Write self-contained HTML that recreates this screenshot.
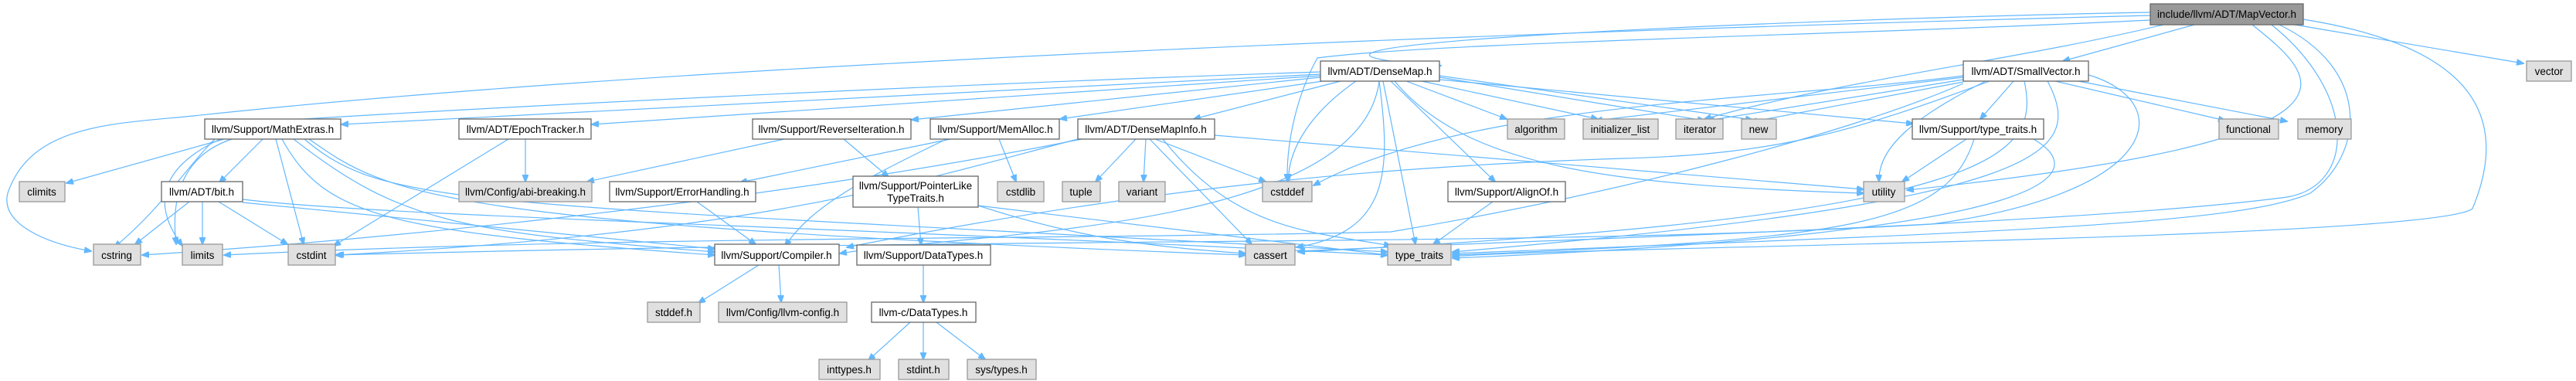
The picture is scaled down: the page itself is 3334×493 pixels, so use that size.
<!DOCTYPE html>
<html><head><meta charset="utf-8"><style>
html,body{margin:0;padding:0;background:#fff}
svg{display:block}
text{font-family:"Liberation Sans",Arial,sans-serif;font-size:13.5px;fill:#000;text-anchor:middle}
.w{fill:#fff;stroke:#666;stroke-width:1.3}
.g{fill:#e0e0e0;stroke:#999;stroke-width:1.3}
.m{fill:#999;stroke:#666;stroke-width:1.3}
path{fill:none;stroke:#63b8ff;stroke-width:1.2;marker-end:url(#a)}
</style></head><body>
<svg width="3334" height="493" viewBox="0 0 3334 493" xmlns="http://www.w3.org/2000/svg">
<defs><marker id="a" markerWidth="10" markerHeight="8" refX="9" refY="4" orient="auto" markerUnits="userSpaceOnUse"><polygon points="0,0 10,4 0,8" fill="#63b8ff" stroke="#63b8ff"/></marker></defs>
<!-- edges from MapVector -->
<path d="M2783,16 C2300,25 1500,60 1865,85"/>
<path d="M2840,32 L2670,79"/>
<path d="M2970,32 L3266,82"/>
<path d="M2783,20 C2000,40 900,80 250,150 C150,160 40,160 10,250 C0,290 60,315 118,325"/>
<path d="M2783,26 C2400,45 1850,55 1705,75 C1680,120 1665,180 1666,234"/>
<path d="M2800,32 C2600,80 2400,100 2206,154"/>
<path d="M2915,32 C3000,100 3100,180 2468,246"/>
<path d="M2950,32 C3070,90 3060,200 2990,250 C2900,290 2600,300 1880,328"/>
<path d="M2981,25 C3200,60 3250,150 3200,270 C3150,310 2000,320 1880,332"/>
<path d="M2940,32 C3050,120 3050,240 2960,255 C2700,290 2000,310 1680,325"/>
<!-- edges from DenseMap -->
<path d="M1709,96 L442,161"/>
<path d="M1709,98 L766,161"/>
<path d="M1709,100 L1180,155"/>
<path d="M1712,105 L1372,154"/>
<path d="M1735,105 L1545,154"/>
<path d="M1820,105 L1950,154"/>
<path d="M1840,105 L2068,154"/>
<path d="M1863,100 L2206,156"/>
<path d="M1863,98 L2268,155"/>
<path d="M1863,103 L2476,160"/>
<path d="M1755,105 C1690,150 1666,200 1668,234"/>
<path d="M1800,105 L1935,235"/>
<path d="M1805,105 C1900,220 2100,240 2412,250"/>
<path d="M1785,105 C1800,220 1800,300 1678,320"/>
<path d="M1790,105 L1832,316"/>
<path d="M1785,105 C1760,300 1260,300 1087,328"/>
<path d="M1709,93 C1200,110 600,140 300,160 C250,200 220,260 148,320"/>
<!-- SmallVector edges -->
<path d="M2606,105 L2563,154"/>
<path d="M2660,105 L2880,156"/>
<path d="M2690,105 L2960,157"/>
<path d="M2570,105 C2480,150 2430,190 2432,235"/>
<path d="M2541,100 L2065,156"/>
<path d="M2541,103 L2210,156"/>
<path d="M2541,106 L2265,158"/>
<path d="M2541,98 C2300,130 1900,130 1700,240"/>
<path d="M2575,105 C2400,170 2300,200 2100,205 C1800,215 1500,240 1096,320"/>
<path d="M2620,105 C2640,200 2600,280 1680,326"/>
<path d="M2650,105 C2700,200 2650,260 1880,326"/>
<path d="M2700,96 C2820,130 2800,250 2500,290 C2000,320 1400,305 434,330"/>
<path d="M2541,108 C2400,170 2100,250 1800,300 C1400,310 800,305 290,330"/>
<!-- type_traits.h -->
<path d="M2545,180 L2462,235"/>
<path d="M2555,180 C2520,290 2400,310 1880,330"/>
<path d="M2632,180 C2700,220 2700,300 1880,334"/>
<!-- MathExtras -->
<path d="M290,180 L86,237"/>
<path d="M340,180 L284,236"/>
<path d="M300,180 C240,200 220,250 228,316"/>
<path d="M285,180 C200,220 200,270 236,318"/>
<path d="M357,180 L393,316"/>
<path d="M365,180 C420,280 500,300 925,330"/>
<path d="M380,180 C520,290 600,300 925,326"/>
<path d="M400,180 C500,250 550,290 1612,330"/>
<path d="M394,180 C500,270 600,260 1796,326"/>
<!-- bit.h -->
<path d="M245,261 L175,316"/>
<path d="M262,261 L262,316"/>
<path d="M283,261 L372,316"/>
<path d="M314,258 C500,280 1000,290 1796,330"/>
<path d="M314,262 L925,322"/>
<!-- Epoch -->
<path d="M658,180 L432,318"/>
<path d="M680,180 L680,235"/>
<!-- Reverse -->
<path d="M1015,180 L760,235"/>
<path d="M1092,180 L1150,229"/>
<!-- MemAlloc -->
<path d="M1230,180 L958,236"/>
<path d="M1293,180 L1315,235"/>
<path d="M1225,180 C1100,240 1050,270 1016,318"/>
<!-- DenseMapInfo -->
<path d="M1395,180 C1200,230 1000,300 436,330"/>
<path d="M1470,180 L1418,235"/>
<path d="M1483,180 L1480,235"/>
<path d="M1495,180 L1638,235"/>
<path d="M1488,180 L1620,316"/>
<path d="M1505,180 C1600,300 1700,300 1800,318"/>
<path d="M1572,175 L2412,245"/>
<path d="M1400,180 C1000,260 500,310 184,330"/>
<!-- PointerLike -->
<path d="M1188,268 L1192,317"/>
<path d="M1266,266 C1400,310 1500,320 1612,328"/>
<path d="M1266,266 L1796,330"/>
<!-- ErrorHandling -->
<path d="M902,261 L978,316"/>
<!-- AlignOf -->
<path d="M1932,261 L1855,316"/>
<!-- Compiler -->
<path d="M982,343 L904,392"/>
<path d="M1008,343 L1011,391"/>
<!-- DataTypes -->
<path d="M1195,343 L1195,391"/>
<path d="M1178,417 L1124,466"/>
<path d="M1195,417 L1195,465"/>
<path d="M1212,417 L1275,465"/>

<!-- nodes -->
<rect class="m" x="2783" y="5" width="198" height="27"/><text x="2882" y="23">include/llvm/ADT/MapVector.h</text>
<rect class="w" x="1709" y="79" width="154" height="26"/><text x="1786" y="97">llvm/ADT/DenseMap.h</text>
<rect class="w" x="2541" y="79" width="162" height="26"/><text x="2622" y="97">llvm/ADT/SmallVector.h</text>
<rect class="g" x="3270" y="79" width="58" height="26"/><text x="3299" y="97">vector</text>
<rect class="w" x="265" y="154" width="176" height="26"/><text x="353" y="172">llvm/Support/MathExtras.h</text>
<rect class="w" x="594" y="154" width="171" height="26"/><text x="680" y="172">llvm/ADT/EpochTracker.h</text>
<rect class="w" x="974" y="154" width="205" height="26"/><text x="1076" y="172">llvm/Support/ReverseIteration.h</text>
<rect class="w" x="1204" y="154" width="167" height="26"/><text x="1288" y="172">llvm/Support/MemAlloc.h</text>
<rect class="w" x="1395" y="154" width="177" height="26"/><text x="1483" y="172">llvm/ADT/DenseMapInfo.h</text>
<rect class="g" x="1951" y="154" width="74" height="26"/><text x="1988" y="172">algorithm</text>
<rect class="g" x="2049" y="154" width="97" height="26"/><text x="2097" y="172">initializer_list</text>
<rect class="g" x="2169" y="154" width="61" height="26"/><text x="2200" y="172">iterator</text>
<rect class="g" x="2254" y="154" width="45" height="26"/><text x="2276" y="172">new</text>
<rect class="w" x="2475" y="154" width="170" height="26"/><text x="2560" y="172">llvm/Support/type_traits.h</text>
<rect class="g" x="2872" y="154" width="77" height="26"/><text x="2910" y="172">functional</text>
<rect class="g" x="2974" y="154" width="69" height="26"/><text x="3008" y="172">memory</text>
<rect class="g" x="25" y="235" width="59" height="26"/><text x="54" y="253">climits</text>
<rect class="w" x="209" y="235" width="105" height="26"/><text x="261" y="253">llvm/ADT/bit.h</text>
<rect class="g" x="594" y="235" width="172" height="26"/><text x="680" y="253">llvm/Config/abi-breaking.h</text>
<rect class="w" x="789" y="235" width="189" height="26"/><text x="883" y="253">llvm/Support/ErrorHandling.h</text>
<rect class="w" x="1104" y="228" width="162" height="40"/><text x="1185" y="245">llvm/Support/PointerLike</text><text x="1185" y="261">TypeTraits.h</text>
<rect class="g" x="1291" y="235" width="60" height="26"/><text x="1321" y="253">cstdlib</text>
<rect class="g" x="1375" y="235" width="49" height="26"/><text x="1399" y="253">tuple</text>
<rect class="g" x="1448" y="235" width="60" height="26"/><text x="1478" y="253">variant</text>
<rect class="g" x="1634" y="235" width="64" height="26"/><text x="1666" y="253">cstddef</text>
<rect class="w" x="1874" y="235" width="152" height="26"/><text x="1950" y="253">llvm/Support/AlignOf.h</text>
<rect class="g" x="2412" y="235" width="53" height="26"/><text x="2438" y="253">utility</text>
<rect class="g" x="121" y="316" width="61" height="27"/><text x="151" y="335">cstring</text>
<rect class="g" x="236" y="316" width="52" height="27"/><text x="262" y="335">limits</text>
<rect class="g" x="373" y="316" width="61" height="27"/><text x="403" y="335">cstdint</text>
<rect class="w" x="925" y="316" width="161" height="27"/><text x="1005" y="335">llvm/Support/Compiler.h</text>
<rect class="w" x="1109" y="317" width="173" height="26"/><text x="1195" y="335">llvm/Support/DataTypes.h</text>
<rect class="g" x="1612" y="316" width="64" height="27"/><text x="1644" y="335">cassert</text>
<rect class="g" x="1796" y="316" width="82" height="27"/><text x="1837" y="335">type_traits</text>
<rect class="g" x="838" y="391" width="68" height="26"/><text x="872" y="409">stddef.h</text>
<rect class="g" x="930" y="391" width="166" height="26"/><text x="1013" y="409">llvm/Config/llvm-config.h</text>
<rect class="w" x="1128" y="391" width="135" height="26"/><text x="1195" y="409">llvm-c/DataTypes.h</text>
<rect class="g" x="1060" y="465" width="79" height="26"/><text x="1099" y="483">inttypes.h</text>
<rect class="g" x="1163" y="465" width="65" height="26"/><text x="1195" y="483">stdint.h</text>
<rect class="g" x="1252" y="465" width="89" height="26"/><text x="1296" y="483">sys/types.h</text>
</svg>
</body></html>
